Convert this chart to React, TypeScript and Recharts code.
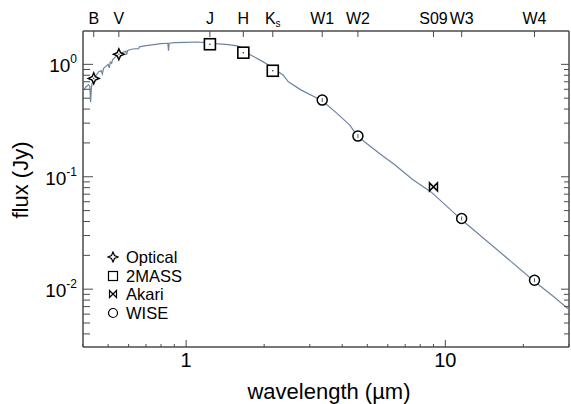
import React from 'react';
import { ScatterChart, Scatter, XAxis, YAxis } from 'recharts';

// model spectrum (wavelength in micron, flux in Jy)
const specWave = [
    0.4, 0.405, 0.41, 0.415, 0.42, 0.425, 0.428, 0.431, 0.435, 0.44, 0.45, 0.46, 0.47, 0.475, 0.48,
    0.49, 0.5, 0.505, 0.51, 0.516, 0.52, 0.535, 0.55, 0.565, 0.585, 0.589, 0.595, 0.62, 0.656, 0.66,
    0.7, 0.75, 0.8, 0.85, 0.855, 0.86, 0.9, 1.0, 1.1, 1.2, 1.3, 1.45, 1.55, 1.61, 1.7, 1.76, 1.93,
    2.08, 2.37, 2.48, 2.78, 3.35, 3.8, 4.28, 4.58, 5.0, 5.67, 6.38, 7.5, 8.83, 11.56, 14, 18, 22.08,
    26, 30,
];
const specFlux = [
    0.59, 0.6, 0.63, 0.64, 0.66, 0.64, 0.46, 0.62, 0.7, 0.75, 0.8, 0.86, 0.88, 0.82, 0.92,
    0.96, 1.0, 0.93, 1.05, 1.02, 1.1, 1.17, 1.23, 1.27, 1.31, 1.22, 1.33, 1.37, 1.38, 1.43,
    1.47, 1.5, 1.53, 1.54, 1.32, 1.54, 1.56, 1.57, 1.58, 1.56, 1.53, 1.5, 1.47, 1.44, 1.33, 1.22, 1.09,
    0.985, 0.8, 0.7, 0.59, 0.474, 0.37, 0.288, 0.23, 0.196, 0.156, 0.128, 0.094, 0.073, 0.0414, 0.0285, 0.0175, 0.0117,
    0.0087, 0.0066,
];

// photometry
const opticalWave = [0.44, 0.55];
const opticalFlux = [0.75, 1.23];
const tmassWave = [1.235, 1.662, 2.159];
const tmassFlux = [1.51, 1.27, 0.877];
const akariWave = [9.0];
const akariFlux = [0.0813];
const wiseWave = [3.35, 4.6, 11.56, 22.08];
const wiseFlux = [0.481, 0.23, 0.0425, 0.012];

// band labels on the top axis
const bandNames = ['B', 'V', 'J', 'H', 'Ks', 'W1', 'W2', 'S09', 'W3', 'W4'];
const bandWave = [0.44, 0.55, 1.235, 1.662, 2.159, 3.35, 4.6, 9.0, 11.56, 22.08];

const xMajor = [1, 10];
const xMinor = [0.4, 0.5, 0.6, 0.7, 0.8, 0.9, 2, 3, 4, 5, 6, 7, 8, 9, 20, 30];
const yMajor = [0.01, 0.1, 1];
const yMinor = [
    0.004, 0.005, 0.006, 0.007, 0.008, 0.009, 0.02, 0.03, 0.04, 0.05, 0.06, 0.07, 0.08, 0.09,
    0.2, 0.3, 0.4, 0.5, 0.6, 0.7, 0.8, 0.9,
];

const legendNames = ['Optical', '2MASS', 'Akari', 'WISE'];

const toPoints = (xs: number[], ys: number[]) => xs.map((x, i) => ({ x, y: ys[i] }));

const FONT = '"Liberation Sans", Arial, sans-serif';
const AXIS = '#4a4a4a';
const SPEC = '#6d84a0';

const isMajor = (list: number[], v: number) => list.some((m) => Math.abs(m - v) < 1e-9);

const BottomTick = (props: any) => {
    const { x, y, payload } = props;
    const major = isMajor(xMajor, payload.value);
    return (
        <g>
            <line x1={x} x2={x} y1={y} y2={y - (major ? 7 : 3)} stroke={AXIS} strokeWidth={1} />
            {major && (
                <text x={x} y={y + 20} textAnchor='middle' fontSize={20} fontFamily={FONT} fill='#000'>
                    {payload.value}
                </text>
            )}
        </g>
    );
};

const TopTick = (props: any) => {
    const { x, y, index } = props;
    const name = bandNames[index];
    return (
        <g>
            <line x1={x} x2={x} y1={y} y2={y + 6} stroke={AXIS} strokeWidth={1} />
            <text x={x} y={y - 7} textAnchor='middle' fontSize={16} fontFamily={FONT} fill='#000'>
                {name === 'Ks' ? (
                    <>
                        K<tspan fontSize={10} dy={3}>s</tspan>
                    </>
                ) : (
                    name
                )}
            </text>
        </g>
    );
};

const LeftTick = (props: any) => {
    const { x, y, payload } = props;
    const major = isMajor(yMajor, payload.value);
    const exp = Math.round(Math.log10(payload.value));
    return (
        <g>
            <line x1={x} x2={x + (major ? 10 : 7)} y1={y} y2={y} stroke={AXIS} strokeWidth={1} />
            {major && (
                <text x={x - 6} y={y + 8} textAnchor='end' fontSize={19} fontFamily={FONT} fill='#000'>
                    10<tspan fontSize={12} dy={-9}>{exp}</tspan>
                </text>
            )}
        </g>
    );
};

const RightTick = (props: any) => {
    const { x, y, payload } = props;
    const major = isMajor(yMajor, payload.value);
    return <line x1={x} x2={x - (major ? 8 : 5)} y1={y} y2={y} stroke={AXIS} strokeWidth={1} />;
};

// marker shapes
const starPath = (cx: number, cy: number, r: number) => {
    const k = r * 0.3;
    return `M${cx},${cy - r} L${cx + k},${cy - k} L${cx + r},${cy} L${cx + k},${cy + k} L${cx},${cy + r} L${cx - k},${cy + k} L${cx - r},${cy} L${cx - k},${cy - k} Z`;
};
const bowtiePath = (cx: number, cy: number, r: number) =>
    `M${cx - r},${cy - r} L${cx - r},${cy + r} L${cx + r},${cy - r} L${cx + r},${cy + r} Z`;

const StarShape = ({ cx, cy }: any) => (
    <g>
        <path d={starPath(cx, cy, 5.5)} fill='#fff' stroke='#000' strokeWidth={1.4} />
        <circle cx={cx} cy={cy} r={0.8} fill='#555' />
    </g>
);
const SquareShape = ({ cx, cy }: any) => (
    <g>
        <rect x={cx - 5.5} y={cy - 5.5} width={11} height={11} fill='#fff' stroke='#000' strokeWidth={1.6} />
        <circle cx={cx} cy={cy} r={0.8} fill='#333' />
    </g>
);
const BowtieShape = ({ cx, cy }: any) => (
    <path d={bowtiePath(cx, cy, 4)} fill='#fff' stroke='#000' strokeWidth={1.5} />
);
const CircleShape = ({ cx, cy }: any) => (
    <g>
        <circle cx={cx} cy={cy} r={5} fill='#fff' stroke='#000' strokeWidth={1.5} />
        <line x1={cx} x2={cx} y1={cy - 2} y2={cy + 2} stroke='#555' strokeWidth={1} />
    </g>
);

const legendIcon = (i: number) => {
    if (i === 0) return <path d={starPath(6, 6, 5)} fill='none' stroke='#000' strokeWidth={1.2} />;
    if (i === 1) return <rect x={1.5} y={1.5} width={9} height={9} fill='none' stroke='#000' strokeWidth={1.2} />;
    if (i === 2) return <path d={bowtiePath(6, 6, 3.5)} fill='none' stroke='#000' strokeWidth={1.2} />;
    return <circle cx={6} cy={6} r={4.5} fill='none' stroke='#000' strokeWidth={1.2} />;
};

const SedChart = () => {
    return (
        <div style={{ position: 'absolute', left: 0, top: 0, width: 571, height: 404, background: '#fff' }}>
            <ScatterChart width={571} height={404} margin={{ top: 0, right: 0, bottom: 0, left: 0 }}>
                <XAxis
                    xAxisId='bottom'
                    dataKey='x'
                    type='number'
                    scale='log'
                    domain={[0.4, 30]}
                    allowDataOverflow
                    orientation='bottom'
                    height={57}
                    ticks={[...xMinor, ...xMajor].sort((a, b) => a - b)}
                    interval={0}
                    tick={<BottomTick />}
                    tickLine={false}
                    tickSize={0}
                    tickMargin={0}
                    axisLine={{ stroke: AXIS, strokeWidth: 1.5 }}
                    label={() => (
                        <text x={329} y={399} textAnchor='middle' fontSize={22} fontFamily={FONT} fill='#000'>
                            wavelength (µm)
                        </text>
                    )}
                />
                <XAxis
                    xAxisId='top'
                    dataKey='x'
                    type='number'
                    scale='log'
                    domain={[0.4, 30]}
                    allowDataOverflow
                    orientation='top'
                    height={31}
                    ticks={bandWave}
                    interval={0}
                    tick={<TopTick />}
                    tickLine={false}
                    tickSize={0}
                    tickMargin={0}
                    axisLine={{ stroke: AXIS, strokeWidth: 1.5 }}
                />
                <YAxis
                    yAxisId='left'
                    dataKey='y'
                    type='number'
                    scale='log'
                    domain={[0.00306, 1.98]}
                    allowDataOverflow
                    orientation='left'
                    width={83}
                    ticks={[...yMinor, ...yMajor].sort((a, b) => a - b)}
                    interval={0}
                    tick={<LeftTick />}
                    tickLine={false}
                    tickSize={0}
                    tickMargin={0}
                    axisLine={{ stroke: AXIS, strokeWidth: 1.5 }}
                    label={() => (
                        <text
                            transform='translate(28,180) rotate(-90)'
                            textAnchor='middle'
                            fontSize={22}
                            fontFamily={FONT}
                            fill='#000'
                        >
                            flux (Jy)
                        </text>
                    )}
                />
                <YAxis
                    yAxisId='right'
                    dataKey='y'
                    type='number'
                    scale='log'
                    domain={[0.00306, 1.98]}
                    allowDataOverflow
                    orientation='right'
                    width={2}
                    ticks={[...yMinor, ...yMajor].sort((a, b) => a - b)}
                    interval={0}
                    tick={<RightTick />}
                    tickLine={false}
                    tickSize={0}
                    tickMargin={0}
                    axisLine={{ stroke: AXIS, strokeWidth: 1.5 }}
                />
                <Scatter
                    xAxisId='bottom'
                    yAxisId='left'
                    data={toPoints(specWave, specFlux)}
                    line={{ stroke: SPEC, strokeWidth: 1.2 }}
                    shape={() => <g />}
                    isAnimationActive={false}
                />
                <Scatter xAxisId='top' yAxisId='right' data={toPoints(wiseWave, wiseFlux)} shape={CircleShape} isAnimationActive={false} />
                <Scatter xAxisId='bottom' yAxisId='left' data={toPoints(akariWave, akariFlux)} shape={BowtieShape} isAnimationActive={false} />
                <Scatter xAxisId='bottom' yAxisId='left' data={toPoints(tmassWave, tmassFlux)} shape={SquareShape} isAnimationActive={false} />
                <Scatter xAxisId='bottom' yAxisId='left' data={toPoints(opticalWave, opticalFlux)} shape={StarShape} isAnimationActive={false} />
            </ScatterChart>
            <div
                style={{
                    position: 'absolute',
                    left: 107,
                    top: 248,
                    fontFamily: FONT,
                    fontSize: 16.5,
                    lineHeight: '18.6px',
                    color: '#000',
                }}
            >
                {legendNames.map((name, i) => (
                    <div key={name} style={{ display: 'flex', alignItems: 'center', height: 18.6, whiteSpace: 'nowrap' }}>
                        <svg width={12} height={12} style={{ marginRight: 7 }}>
                            {legendIcon(i)}
                        </svg>
                        <span>{name}</span>
                    </div>
                ))}
            </div>
        </div>
    );
};

export default SedChart;
